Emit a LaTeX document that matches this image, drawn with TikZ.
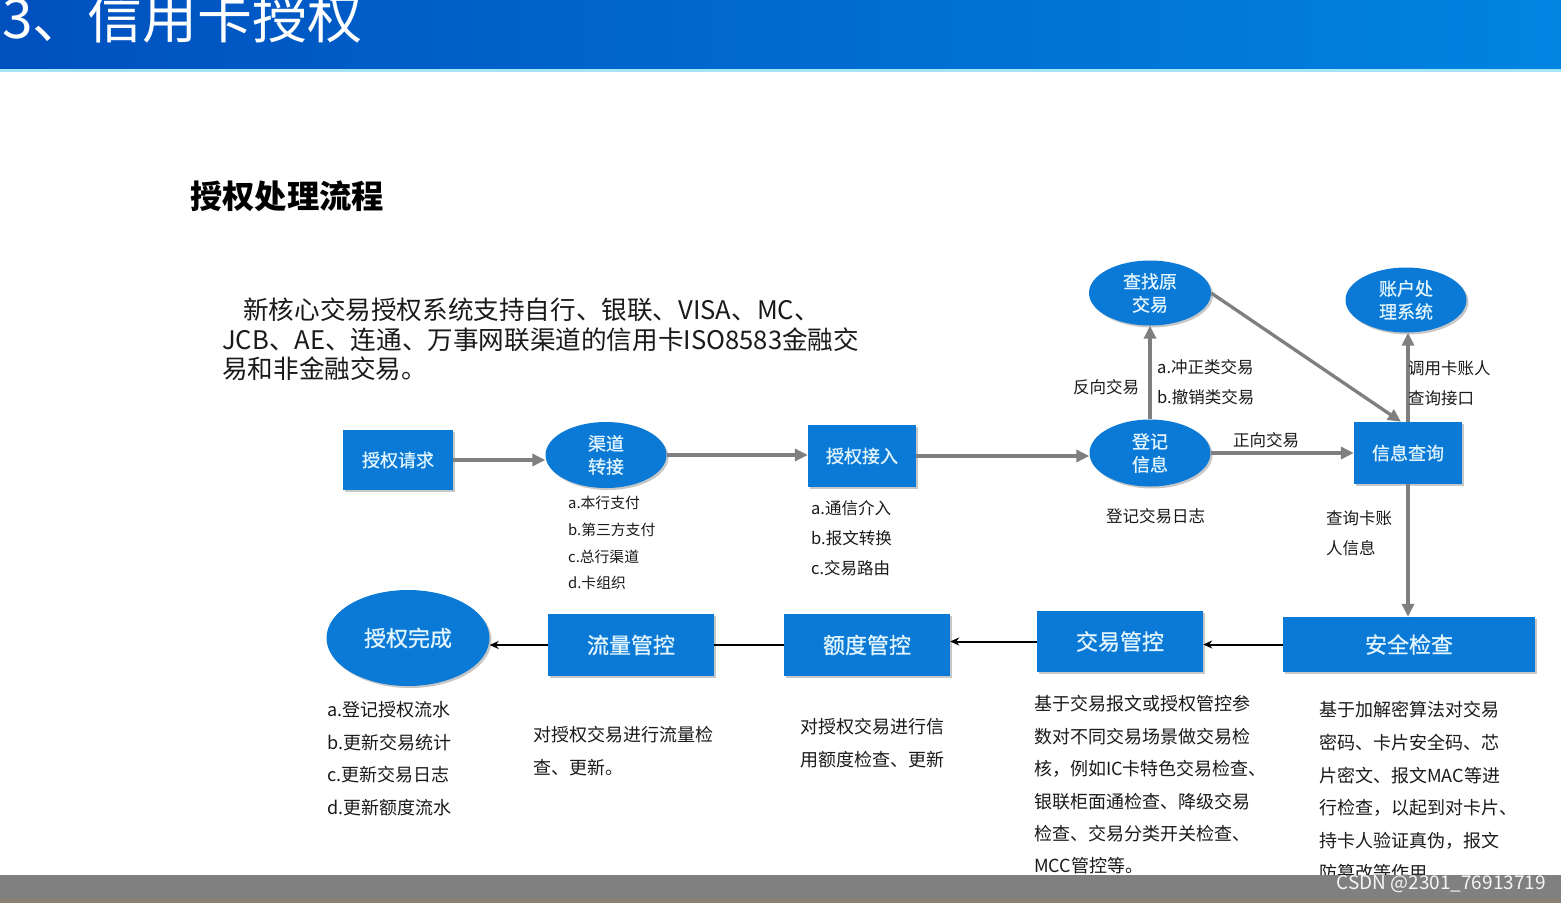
\documentclass[tikz,border=0pt]{standalone}
\usepackage{fontspec}
\setmainfont{Noto Sans CJK SC}
\newfontfamily\labelfont[FakeBold=0.8]{Noto Sans CJK SC}
\usetikzlibrary{shapes.geometric,arrows.meta,shadows}
\definecolor{nodeblue}{HTML}{0A7AD6}
\definecolor{nodetext}{HTML}{E2F5FF}
\definecolor{arrowgray}{HTML}{7F7F7F}
\definecolor{txt}{HTML}{1A1A1A}
\definecolor{hdrleft}{HTML}{0050BE}
\definecolor{hdrright}{HTML}{0084E2}
\definecolor{hdrline}{HTML}{A6E4F8}
\definecolor{barcol}{HTML}{808080}
\definecolor{barbottom}{HTML}{8C8070}
\begin{document}
\begin{tikzpicture}[x=1pt,y=-1pt,
  bshadow/.style={drop shadow={shadow xshift=2pt,shadow yshift=-2pt,opacity=0.22,fill=black}},
  bluebox/.style={rectangle,fill=nodeblue,text=nodetext,inner sep=0pt,bshadow,
    font=\labelfont\fontsize{18}{23}\selectfont},
  bigbox/.style={bluebox,font=\labelfont\fontsize{22}{26}\selectfont},
  oval/.style={ellipse,fill=nodeblue,text=nodetext,inner sep=0pt,align=center,bshadow,
    font=\labelfont\fontsize{18}{23}\selectfont},
  garrow/.style={draw=arrowgray,line width=3.3pt,-{Triangle[length=13pt,width=12pt]}},
  barrow/.style={draw=black,line width=2pt,-{Stealth[length=9pt,width=8pt]}},
  bline/.style={draw=black,line width=2pt},
  notesm/.style={anchor=west,inner sep=0pt,text=txt,font=\fontsize{14.8}{17}\selectfont},
  note/.style={anchor=west,inner sep=0pt,text=txt,font=\fontsize{16.5}{19}\selectfont},
  notebig/.style={anchor=west,inner sep=0pt,text=txt,font=\fontsize{18}{21}\selectfont},
  para/.style={anchor=west,inner sep=0pt,text=txt,font=\fontsize{25.6}{29}\selectfont}
]
\useasboundingbox (0,0) rectangle (1561,903);
\fill[white] (0,0) rectangle (1561,903);

% header
\shade[left color=hdrleft,right color=hdrright] (0,0) rectangle (1561,70);
\fill[hdrline] (0,69) rectangle (1561,72);
\node[anchor=base west,inner sep=0pt,text=white,font=\fontsize{55}{62}\selectfont] (hdr) at (2,38) {3、信用卡授权};

% section title and paragraph
\node[anchor=west,inner sep=0pt,text=black,font=\bfseries\fontsize{32.3}{37}\selectfont] (sec) at (190,196) {授权处理流程};
\node[para] (p1) at (243,310) {新核心交易授权系统支持自行、银联、VISA、MC、};
\node[para] (p2) at (222,340) {JCB、AE、连通、万事网联渠道的信用卡ISO8583金融交};
\node[para] (p3) at (222,369) {易和非金融交易。};

% nodes
\node[bluebox,minimum width=110pt,minimum height=60pt] (req) at (398,460) {授权请求};
\node[oval,minimum width=121pt,minimum height=66pt] (qd) at (606,455) {渠道\\转接};
\node[bluebox,minimum width=108pt,minimum height=62pt] (jr) at (862,456) {授权接入};
\node[oval,minimum width=121pt,minimum height=67pt] (dj) at (1150,453) {登记\\信息};
\node[oval,minimum width=122pt,minimum height=65pt] (cz) at (1150,293) {查找原\\交易};
\node[oval,minimum width=121pt,minimum height=65pt] (zh) at (1406,300) {账户处\\理系统};
\node[bluebox,minimum width=108pt,minimum height=62pt] (xx) at (1408,453) {信息查询};
\node[bigbox,minimum width=252pt,minimum height=55pt] (aq) at (1409,644.5) {安全检查};
\node[bigbox,minimum width=166pt,minimum height=61pt] (jy) at (1120,641.5) {交易管控};
\node[bigbox,minimum width=166pt,minimum height=62pt] (ed) at (867,645) {额度管控};
\node[bigbox,minimum width=166pt,minimum height=62pt] (ll) at (631,645) {流量管控};
\node[oval,minimum width=163pt,minimum height=96pt,font=\labelfont\fontsize{22}{26}\selectfont] (wc) at (408,638) {授权完成};

% gray connectors
\draw[garrow] (req.east) -- (req.east -| qd.west);
\draw[garrow] (qd.east) -- (qd.east -| jr.west);
\draw[garrow] (jr.east) -- (jr.east -| dj.west);
\draw[garrow] (dj.east) -- (xx.west);
\draw[garrow] (dj.north) -- (cz.south);
\draw[garrow] (cz.east) -- ([xshift=-7pt]xx.north);
\draw[garrow] (xx.north) -- (xx.north |- zh.south);
\draw[garrow] (xx.south) -- (xx.south |- aq.north);

% black connectors
\draw[barrow] (aq.west) -- (aq.west -| jy.east);
\draw[barrow] (jy.west) -- (jy.west -| ed.east);
\draw[bline] (ll.east) -- (ed.west);
\draw[barrow] (ll.west) -- (ll.west -| wc.east);

% connector labels
\node[note] (lzx) at (1233,440) {正向交易};
\node[note] (lfx) at (1073,387) {反向交易};
\node[note] (lcz1) at (1157,367) {a.冲正类交易};
\node[note] (lcz2) at (1157,397) {b.撤销类交易};
\node[note] (ldy1) at (1408,368) {调用卡账人};
\node[note] (ldy2) at (1408,398) {查询接口};
\node[note] (lcx1) at (1326,518) {查询卡账};
\node[note] (lcx2) at (1326,548) {人信息};

% notes under nodes
\foreach \t [count=\i] in {a.本行支付,b.第三方支付,c.总行渠道,d.卡组织}
  \node[notesm] (qdt\i) at (568,{503+26.7*(\i-1)}) {\t};
\foreach \t [count=\i] in {a.通信介入,b.报文转换,c.交易路由}
  \node[note] (jrt\i) at (811,{508+30*(\i-1)}) {\t};
\node[note] (djt) at (1106,516) {登记交易日志};
\foreach \t [count=\i] in {a.登记授权流水,b.更新交易统计,c.更新交易日志,d.更新额度流水}
  \node[notebig] (wct\i) at (327,{710+32.4*(\i-1)}) {\t};
\foreach \t [count=\i] in {对授权交易进行流量检,查、更新。}
  \node[notebig] (llt\i) at (533,{735+33*(\i-1)}) {\t};
\foreach \t [count=\i] in {对授权交易进行信,用额度检查、更新}
  \node[notebig] (edt\i) at (800,{727+33*(\i-1)}) {\t};
\foreach \t [count=\i] in {基于交易报文或授权管控参,数对不同交易场景做交易检,核，例如IC卡特色交易检查、,银联柜面通检查、降级交易,检查、交易分类开关检查、,MCC管控等。}
  \node[notebig] (jyt\i) at (1034,{704+32.4*(\i-1)}) {\t};
\foreach \t [count=\i] in {基于加解密算法对交易,密码、卡片安全码、芯,片密文、报文MAC等进,行检查，以起到对卡片、,持卡人验证真伪，报文,防篡改等作用}
  \node[notebig] (aqt\i) at (1319,{710+32.6*(\i-1)}) {\t};

% bottom bar and watermark
\fill[barcol] (0,875) rectangle (1561,899);
\fill[barbottom] (0,899) rectangle (1561,903);
\node[anchor=east,inner sep=0pt,text=white!92!gray,font=\fontsize{19}{22}\selectfont] (wm) at (1546,884) {CSDN @2301\_76913719};
\end{tikzpicture}
\end{document}
